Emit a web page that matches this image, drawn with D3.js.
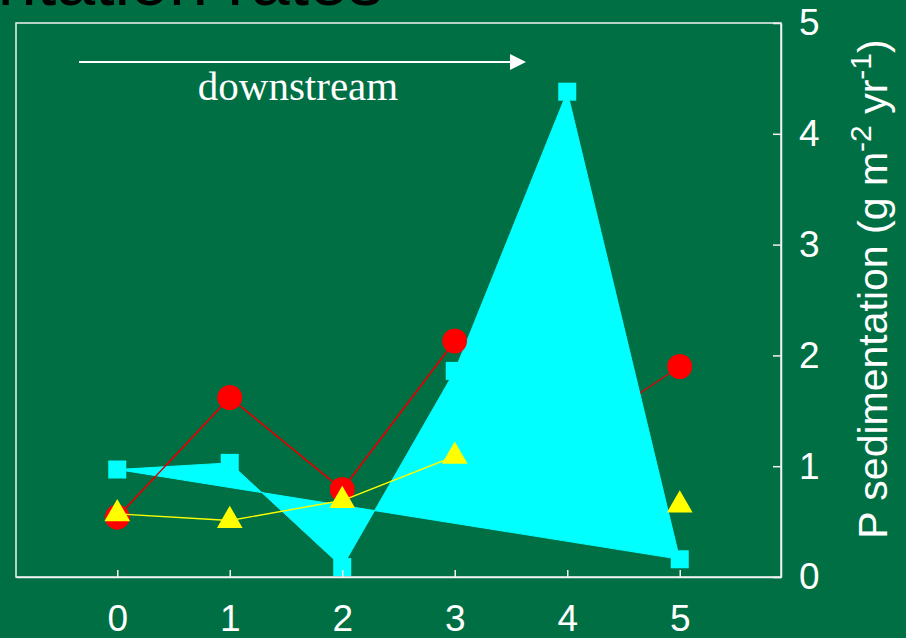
<!DOCTYPE html>
<html>
<head>
<meta charset="utf-8">
<script src="https://cdn.jsdelivr.net/npm/d3@7"></script>
<style>
  body { margin: 0; background: #007044; }
  svg { display: block; }
</style>
</head>
<body>
<div id="chart"></div>
<script>
// sites along the stream
const sites = [0, 1, 2, 3, 4, 5];
const redValues = [0.54, 1.62, 0.79, 2.13, 1.22, 1.9];
const cyanValues = [0.97, 1.03, 0.09, 1.86, 4.38, 0.16];
const yellowValues = [0.57, 0.51, 0.69, 1.09, null, 0.65];
const xTicks = [0, 1, 2, 3, 4, 5];
const yTicks = [0, 1, 2, 3, 4, 5];

const width = 906;
const height = 638;
const bg = "#007044";

const svg = d3
  .select("#chart")
  .append("svg")
  .attr("width", width)
  .attr("height", height);

svg.append("rect").attr("width", width).attr("height", height).attr("fill", bg);

const x = d3.scaleLinear().domain([-0.9, 5.9]).range([16, 781]);
const y = d3.scaleLinear().domain([0, 5]).range([577, 23]);

const toPoints = (vals) => sites.map((s, i) => ({ x: s, v: vals[i], i }));
const red = toPoints(redValues);
const cyan = toPoints(cyanValues);
const yellow = toPoints(yellowValues);

// title, mostly cut off by the top edge (as in the original slide)
svg
  .append("text")
  .attr("x", 383)
  .attr("y", 5)
  .attr("text-anchor", "end")
  .style("font-family", "'Liberation Sans', Arial, sans-serif")
  .style("font-size", "70px")
  .attr("fill", "#000")
  .text("Sedimentation rates");

// frame
svg
  .append("rect")
  .attr("x", 16)
  .attr("y", 23)
  .attr("width", 765)
  .attr("height", 554)
  .attr("fill", "none")
  .attr("stroke", "#f2f2f2")
  .attr("stroke-width", 1.5);

const line = d3
  .line()
  .defined((d) => d.v !== null)
  .x((d) => x(d.x))
  .y((d) => y(d.v));

// red series, lower layer (hidden behind the cyan area)
svg
  .append("path")
  .datum(red)
  .attr("d", line)
  .attr("fill", "none")
  .attr("stroke", "#e00000")
  .attr("stroke-width", 1.4);

svg
  .selectAll(".red-under")
  .data(red)
  .enter()
  .append("circle")
  .attr("cx", (d) => x(d.x))
  .attr("cy", (d) => y(d.v))
  .attr("r", 12.3)
  .attr("fill", "#ff0000");

// cyan filled polygon
svg
  .append("path")
  .datum(cyan)
  .attr("d", d3.line().x((d) => x(d.x)).y((d) => y(d.v)).curve(d3.curveLinearClosed))
  .attr("fill", "#00ffff")
  .attr("stroke", "#00ffff")
  .attr("stroke-width", 1);

svg
  .selectAll(".sq")
  .data(cyan)
  .enter()
  .append("path")
  .attr("transform", (d) => `translate(${x(d.x)},${y(d.v)})`)
  .attr("d", d3.symbol(d3.symbolSquare, 18 * 18))
  .attr("fill", "#00ffff");

// red upstream part sits on top of the cyan wedge
const redTop = red.filter((d) => d.i <= 3);
svg
  .append("path")
  .datum(redTop)
  .attr("d", line)
  .attr("fill", "none")
  .attr("stroke", "#e00000")
  .attr("stroke-width", 1.4);

svg
  .selectAll(".red-top")
  .data(red.filter((d) => d.i !== 4))
  .enter()
  .append("circle")
  .attr("cx", (d) => x(d.x))
  .attr("cy", (d) => y(d.v))
  .attr("r", 12.3)
  .attr("fill", "#ff0000");

// yellow series
svg
  .append("path")
  .datum(yellow)
  .attr("d", line)
  .attr("fill", "none")
  .attr("stroke", "#ffff00")
  .attr("stroke-width", 1.4);

svg
  .selectAll(".tri")
  .data(yellow.filter((d) => d.v !== null))
  .enter()
  .append("path")
  .attr("transform", (d) => `translate(${x(d.x)},${y(d.v)})`)
  .attr("d", d3.symbol(d3.symbolTriangle, 286))
  .attr("fill", "#ffff00");

// axes
const xAxis = d3
  .axisBottom(x)
  .tickValues(xTicks)
  .tickFormat(d3.format("d"))
  .tickSize(-7)
  .tickSizeOuter(0)
  .tickPadding(28);
const yAxis = d3
  .axisRight(y)
  .tickValues(yTicks)
  .tickFormat(d3.format("d"))
  .tickSize(-8)
  .tickSizeOuter(0)
  .tickPadding(18);

const gx = svg.append("g").attr("transform", "translate(0,577)").call(xAxis);
const gy = svg.append("g").attr("transform", "translate(781,0)").call(yAxis);

[gx, gy].forEach((g) => {
  g.select(".domain").attr("stroke", "#f2f2f2").attr("stroke-width", 1.5);
  g.selectAll(".tick line").attr("stroke", "#f2f2f2").attr("stroke-width", 1.5);
  g.selectAll(".tick text")
    .attr("fill", "#fff")
    .style("font-family", "'Liberation Sans', Arial, sans-serif")
    .style("font-size", "37px");
});

// y axis title
const yTitle = svg
  .append("text")
  .attr("transform", "translate(887,289) rotate(-90)")
  .attr("text-anchor", "middle")
  .attr("fill", "#fff")
  .style("font-family", "'Liberation Sans', Arial, sans-serif")
  .style("font-size", "41px");
yTitle.append("tspan").text("P sedimentation (g m");
yTitle.append("tspan").attr("dy", -16).style("font-size", "30px").text("-2");
yTitle.append("tspan").attr("dy", 16).text(" yr");
yTitle.append("tspan").attr("dy", -16).style("font-size", "30px").text("-1");
yTitle.append("tspan").attr("dy", 16).text(")");

// downstream arrow
svg
  .append("line")
  .attr("x1", 79)
  .attr("x2", 512)
  .attr("y1", 62)
  .attr("y2", 62)
  .attr("stroke", "#fff")
  .attr("stroke-width", 2);
svg
  .append("path")
  .attr("d", "M510,54 L526,62 L510,70 Z")
  .attr("fill", "#fff");

svg
  .append("text")
  .attr("x", 298)
  .attr("y", 100)
  .attr("text-anchor", "middle")
  .attr("fill", "#fff")
  .style("font-family", "'Liberation Serif', 'Times New Roman', serif")
  .style("font-size", "41px")
  .text("downstream");
</script>
</body>
</html>
